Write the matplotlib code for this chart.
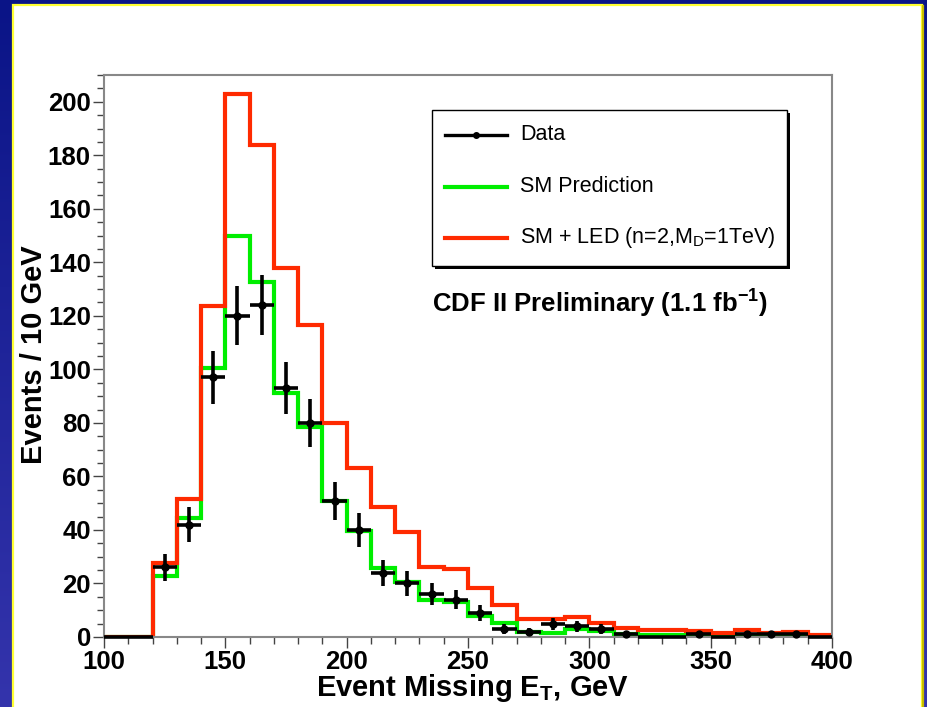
import numpy as np
import matplotlib
matplotlib.use('Agg')
import matplotlib.pyplot as plt
from matplotlib.patches import Rectangle
from matplotlib.lines import Line2D
from matplotlib.ticker import MultipleLocator

plt.rcParams['font.family'] = ['Liberation Sans', 'DejaVu Sans']

# bin edges, 10 GeV bins from 100 to 400 GeV
edges = np.arange(100, 410, 10)

data = np.array([0, 0, 26, 42, 97, 120, 124, 93, 80, 51, 40, 24, 20, 16, 14,
                 9, 3, 2, 5, 4, 3, 1, 0, 0, 1, 0, 1, 1, 1, 0])
data_err = np.array([0, 0, 5.1, 6.5, 9.8, 11.0, 11.1, 9.6, 8.9, 7.1, 6.3, 4.9,
                     4.5, 4.0, 3.7, 3.0, 1.7, 1.4, 2.2, 2.0, 1.7, 1.0, 0, 0,
                     1.0, 0, 1.0, 1.0, 1.0, 0])
sm_pred = np.array([0, 0, 22.8, 44.5, 100.4, 150, 132.7, 91, 78.6, 51, 39.6,
                    25.6, 20.4, 13.8, 12.9, 7.7, 5.2, 1.8, 1.6, 3.1, 2.1, 1.0,
                    0.7, 0.7, 0.3, 0.2, 0.5, 0.4, 0.4, 0.1])
sm_led = np.array([0, 0, 27.5, 51.7, 123.8, 203, 184, 137.7, 116.4, 80, 63.3,
                   48.4, 39.4, 26.2, 25.4, 18.2, 12.0, 6.8, 6.6, 7.3, 5.2, 3.3,
                   2.5, 2.8, 2.2, 1.4, 2.6, 1.5, 1.9, 0.6])

W, H = 927, 707
fig = plt.figure(figsize=(W / 100, H / 100), dpi=100)

# slide background: blue gradient with a yellow-edged white panel
bg = fig.add_axes([0, 0, 1, 1], zorder=0)
t = np.linspace(0, 1, 256)[:, None, None]
top = np.array([10, 20, 135]) / 255
bot = np.array([52, 52, 172]) / 255
grad = np.repeat(top + (bot - top) * t, 2, axis=1)
bg.imshow(grad, extent=[0, W, H, 0], aspect='auto')
bg.add_patch(Rectangle((13.5, 5), 909, 720, fc='white', ec='#ffff33', lw=1.6))
bg.plot([923, 923], [6, H], color='#c8bc00', lw=1.6)
bg.set_xlim(0, W)
bg.set_ylim(H, 0)
bg.axis('off')

# main histogram frame
ax = fig.add_axes([104 / W, (H - 637) / H, 728 / W, 562 / H], zorder=1)
ax.set_facecolor('white')

ax.stairs(sm_pred, edges, color='#00ee00', lw=3)
ax.stairs(sm_led, edges, color='#ff2a00', lw=3)

centers = edges[:-1] + 5
nz = data > 0
ax.errorbar(centers[nz], data[nz], xerr=5, yerr=data_err[nz], fmt='o',
            color='black', ms=5, elinewidth=2.6, capsize=0, clip_on=False,
            zorder=3)
ax.errorbar(centers[~nz], data[~nz], xerr=5, fmt='none', ecolor='black',
            elinewidth=2.6, clip_on=False, zorder=3)

ax.set_xlim(100, 400)
ax.set_ylim(0, 210)
ax.xaxis.set_major_locator(MultipleLocator(50))
ax.xaxis.set_minor_locator(MultipleLocator(10))
ax.yaxis.set_major_locator(MultipleLocator(20))
ax.yaxis.set_minor_locator(MultipleLocator(5))

for s in ax.spines.values():
    s.set_color('#888888')
    s.set_linewidth(1.5)
ax.tick_params(which='both', direction='out', color='#444444', width=1,
               top=False, right=False)
ax.tick_params(which='major', length=8, pad=1.5, labelsize=18.5)
ax.tick_params(which='minor', length=5)
for lab in ax.get_xticklabels() + ax.get_yticklabels():
    lab.set_fontweight('bold')

# overlay for axis titles, legend and label, in pixel coordinates
ov = fig.add_axes([0, 0, 1, 1], zorder=2)
ov.set_xlim(0, W)
ov.set_ylim(H, 0)
ov.axis('off')
ov.patch.set_alpha(0)

ov.text(473, 688, 'Event Missing E$_\\mathdefault{T}$, GeV', fontsize=21,
        fontweight='bold', ha='center', va='center')
ov.text(34, 355, 'Events / 10 GeV', fontsize=21, fontweight='bold',
        rotation=90, ha='center', va='center')

ov.add_patch(Rectangle((435.5, 112.5), 355, 156, fc='black', ec='none'))
ov.add_patch(Rectangle((432.5, 109.5), 355, 156, fc='white', ec='black', lw=1))

entries = [('Data', 'black', 135), ('SM Prediction', '#00ee00', 187),
           ('SM + LED (n=2,M$_\\mathdefault{D}$=1TeV)', '#ff2a00', 238)]
for label, col, yy in entries:
    ov.add_line(Line2D([445, 507], [yy, yy], color=col,
                       lw=2.4 if col == 'black' else 3))
    ov.text(520, yy, label, fontsize=15.5, va='center', ha='left')
ov.plot([476], [135], 'o', color='black', ms=4)

ov.text(432, 303, 'CDF II Preliminary (1.1 fb$^\\mathdefault{-1}$)',
        fontsize=18.5, fontweight='bold', va='center', ha='left')

fig.savefig('out.png', dpi=100)
